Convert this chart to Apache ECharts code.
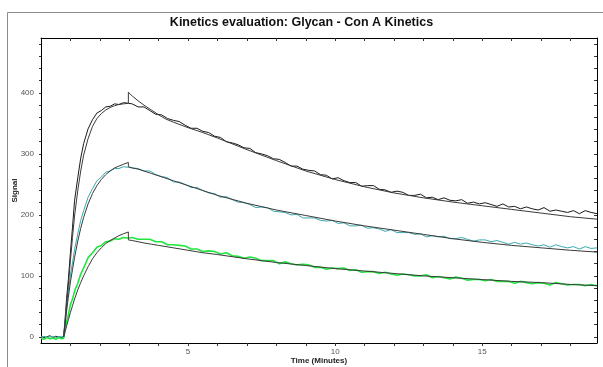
<!DOCTYPE html>
<html>
<head>
<meta charset="utf-8">
<script src="https://cdn.jsdelivr.net/npm/echarts@6/dist/echarts.min.js"></script>
<style>
html,body{margin:0;padding:0;background:#fff;}
#chart{width:603px;height:367px;}
</style>
</head>
<body>
<div id="chart"></div>
<script>
// ---- Data ----
const timeMin = [0,0.1,0.2,0.3,0.4,0.5,0.6,0.7,0.77,
  0.82,0.87,0.93,1.0,1.07,1.14,1.25,1.35,1.45,1.6,1.75,1.9,2.05,2.2,2.35,2.5,2.65,2.8,2.97,
  3.1,3.3,3.5,3.7,3.9,4.1,4.3,4.5,4.7,4.9,5.1,5.3,5.5,5.7,5.9,6.1,6.3,6.5,6.7,6.9,7.1,7.3,7.5,7.7,7.9,
  8.1,8.3,8.5,8.7,8.9,9.1,9.3,9.5,9.7,9.9,10.1,10.3,10.5,10.7,10.9,11.1,11.3,11.5,11.7,11.9,
  12.1,12.3,12.5,12.7,12.9,13.1,13.3,13.5,13.7,13.9,14.1,14.3,14.5,14.7,14.9,15.1,15.3,15.5,15.7,15.9,
  16.1,16.3,16.5,16.7,16.9,17.1,17.3,17.5,17.7,17.9,18.1,18.3,18.5,18.7,18.9];

const signalHigh = [1,-1,0,2,-1,1,0,-1,0,
  30,63,94,138,179,223,261,293,317,341,356,367,371,377,378,382,381,384,383,
  382,377,377,371,365,364,358,355,353,347,342,342,337,335,329,327,320,318,315,310,309,302,300,297,292,
  291,286,280,280,275,273,272,266,265,259,261,256,253,253,247,248,248,242,241,237,
  239,237,232,232,234,228,229,225,228,224,223,225,219,221,218,220,217,214,218,213,
  214,210,213,210,208,212,206,208,206,204,207,202,207,204,202];

const signalMid = [0,1,-1,0,1,-1,0,1,0,
  25,51,74,101,121,143,169,191,207,229,243,256,262,270,272,276,276,279,278,
  277,276,272,272,266,263,261,254,254,250,245,245,240,236,235,229,230,225,221,220,217,212,213,212,206,
  205,204,200,201,195,195,195,191,190,191,186,187,182,182,183,178,179,177,173,176,
  171,171,171,168,169,164,166,164,165,161,161,163,160,157,159,159,156,158,155,152,
  155,152,154,151,149,151,147,151,148,146,148,144,148,145,146];

const signalLow = [-2,-4,-1,-3,-2,-4,-1,-3,-2,
  12,25,36,53,62,75,88,103,113,130,138,147,150,156,157,161,160,163,162,
  163,160,160,160,156,156,151,151,150,149,144,144,140,141,140,136,138,133,132,129,131,129,125,125,125,
  120,123,120,118,119,118,114,114,111,113,112,113,109,110,106,107,107,104,106,103,
  101,103,102,100,100,102,97,99,97,95,98,96,93,94,94,92,94,91,91,91,
  88,91,89,87,89,88,85,89,87,85,86,86,84,86,84];

// Fitted curves
const fitAssocT = [0.77,0.82,0.87,0.93,1.0,1.07,1.14,1.25,1.35,1.45,1.6,1.75,1.9,2.05,2.2,2.35,2.5,2.65,2.8,2.97];
const fitDissT  = [2.97,3.1,3.3,3.5,3.75,4.0,4.25,4.5,5,5.5,6,7,8,9,10,11,12,13,14,15,16,17,18,18.9];

const fitHighAssoc = [0,25,52,85,125,163,198,240,272,298,325,345,358,366,372,376,379,381,382,383];
const fitHighDiss  = [401,395,387,380,372,364,357,352,343,335,326,307,289,272,258,246,236,228,221,215,209,203,197,193];
const fitMidAssoc  = [0,20,42,65,90,110,130,157,178,196,218,235,248,258,266,272,277,280,283,286];
const fitMidDiss   = [279,277,275,272,268,264,260,256,248,240,232,219,208,199,190,182,175,168,161,155,150,146,142,139];
const fitLowAssoc  = [0,9,18,28,40,51,62,77,89,100,115,128,138,146,153,158,162,166,169,172];
const fitLowDiss   = [159,158,156,154,152,150,148,146,142,138,135,128,122,117,112,108,104,100,97,94,91,89,86,84];

// Axis ticks / labels
const xMinorTicks = [1,2,3,4,5,6,7,8,9,10,11,12,13,14,15,16,17,18];
const xLabels = [5,10,15];
const yMinorTicks = [0,20,40,60,80,100,120,140,160,180,200,220,240,260,280,300,320,340,360,380,400,420,440,460,480];
const yLabels = [0,100,200,300,400];

const titleText = 'Kinetics evaluation: Glycan - Con A Kinetics';
const xName = 'Time (Minutes)';
const yName = 'Signal';

// ---- build ----
function zip(t, v){ return t.map((x,i)=>[x, v[i]]); }
function fitLine(aT, aV, dT, dV){ return zip(aT, aV).concat(zip(dT, dV)); }

const FONT = 'Liberation Sans, Arial, sans-serif';
const xMin = 0, xMax = 18.9, yMin = -10, yMax = 490;

const chart = echarts.init(document.getElementById('chart'), null, {renderer:'canvas'});

function dataSeries(name, vals, color, width){
  return {name, type:'line', xAxisIndex:0, yAxisIndex:0, data: zip(timeMin, vals),
    showSymbol:false, symbol:'none', lineStyle:{color, width}, animation:false, z:2};
}
function fitSeries(name, pts){
  return {name, type:'line', xAxisIndex:0, yAxisIndex:0, data: pts,
    showSymbol:false, symbol:'none', lineStyle:{color:'#3a3a3a', width:1}, animation:false, z:3};
}

const option = {
  animation:false,
  backgroundColor:'#fff',
  title:{text:titleText, left:'center', top:11,
    textStyle:{fontFamily:FONT, fontSize:12.5, fontWeight:'bold', color:'#111'}},
  graphic:[{type:'rect', shape:{x:7.5, y:12.5, width:700, height:500},
    style:{fill:'none', stroke:'#8c8c8c', lineWidth:1}, silent:true, z:-1}],
  grid:{left:41, top:38, right:6, bottom:24, containLabel:false, outerBoundsMode:'none'},
  xAxis:[
    {type:'value', min:xMin, max:xMax, position:'bottom',
      name:xName, nameLocation:'middle', nameGap:14, nameMoveOverlap:false,
      nameTextStyle:{fontFamily:FONT, fontSize:8, fontWeight:'bold', color:'#222'},
      axisLine:{show:true, onZero:false, lineStyle:{color:'#000', width:1}},
      axisTick:{show:true, length:3, inside:false, customValues:xMinorTicks, lineStyle:{color:'#333'}},
      axisLabel:{show:true, customValues:xLabels, margin:5, fontFamily:FONT, fontSize:8, color:'#555'},
      splitLine:{show:false}},
    {type:'value', min:xMin, max:xMax, position:'top',
      axisLine:{show:true, onZero:false, lineStyle:{color:'#000', width:1}},
      axisTick:{show:true, length:3, inside:true, customValues:xMinorTicks, lineStyle:{color:'#333'}},
      axisLabel:{show:false}, splitLine:{show:false}}
  ],
  yAxis:[
    {type:'value', min:yMin, max:yMax, position:'left',
      name:yName, nameLocation:'middle', nameGap:22, nameRotate:90, nameMoveOverlap:false,
      nameTextStyle:{fontFamily:FONT, fontSize:8, fontWeight:'bold', color:'#222'},
      axisLine:{show:true, onZero:false, lineStyle:{color:'#000', width:1}},
      axisTick:{show:true, length:2, inside:false, customValues:yMinorTicks, lineStyle:{color:'#333'}},
      axisLabel:{show:true, customValues:yLabels, margin:7, fontFamily:FONT, fontSize:8, color:'#555'},
      splitLine:{show:false}},
    {type:'value', min:yMin, max:yMax, position:'right',
      axisLine:{show:true, onZero:false, lineStyle:{color:'#000', width:1}},
      axisTick:{show:true, length:3, inside:true, customValues:yMinorTicks, lineStyle:{color:'#333'}},
      axisLabel:{show:false}, splitLine:{show:false}}
  ],
  series:[
    dataSeries('High', signalHigh, '#1a1a1a', 1),
    dataSeries('Mid', signalMid, '#3aa9ad', 1),
    dataSeries('Low', signalLow, '#22e640', 1.6),
    fitSeries('Fit High', fitLine(fitAssocT, fitHighAssoc, fitDissT, fitHighDiss)),
    fitSeries('Fit Mid', fitLine(fitAssocT, fitMidAssoc, fitDissT, fitMidDiss)),
    fitSeries('Fit Low', fitLine(fitAssocT, fitLowAssoc, fitDissT, fitLowDiss))
  ]
};
chart.setOption(option);
</script>
</body>
</html>
